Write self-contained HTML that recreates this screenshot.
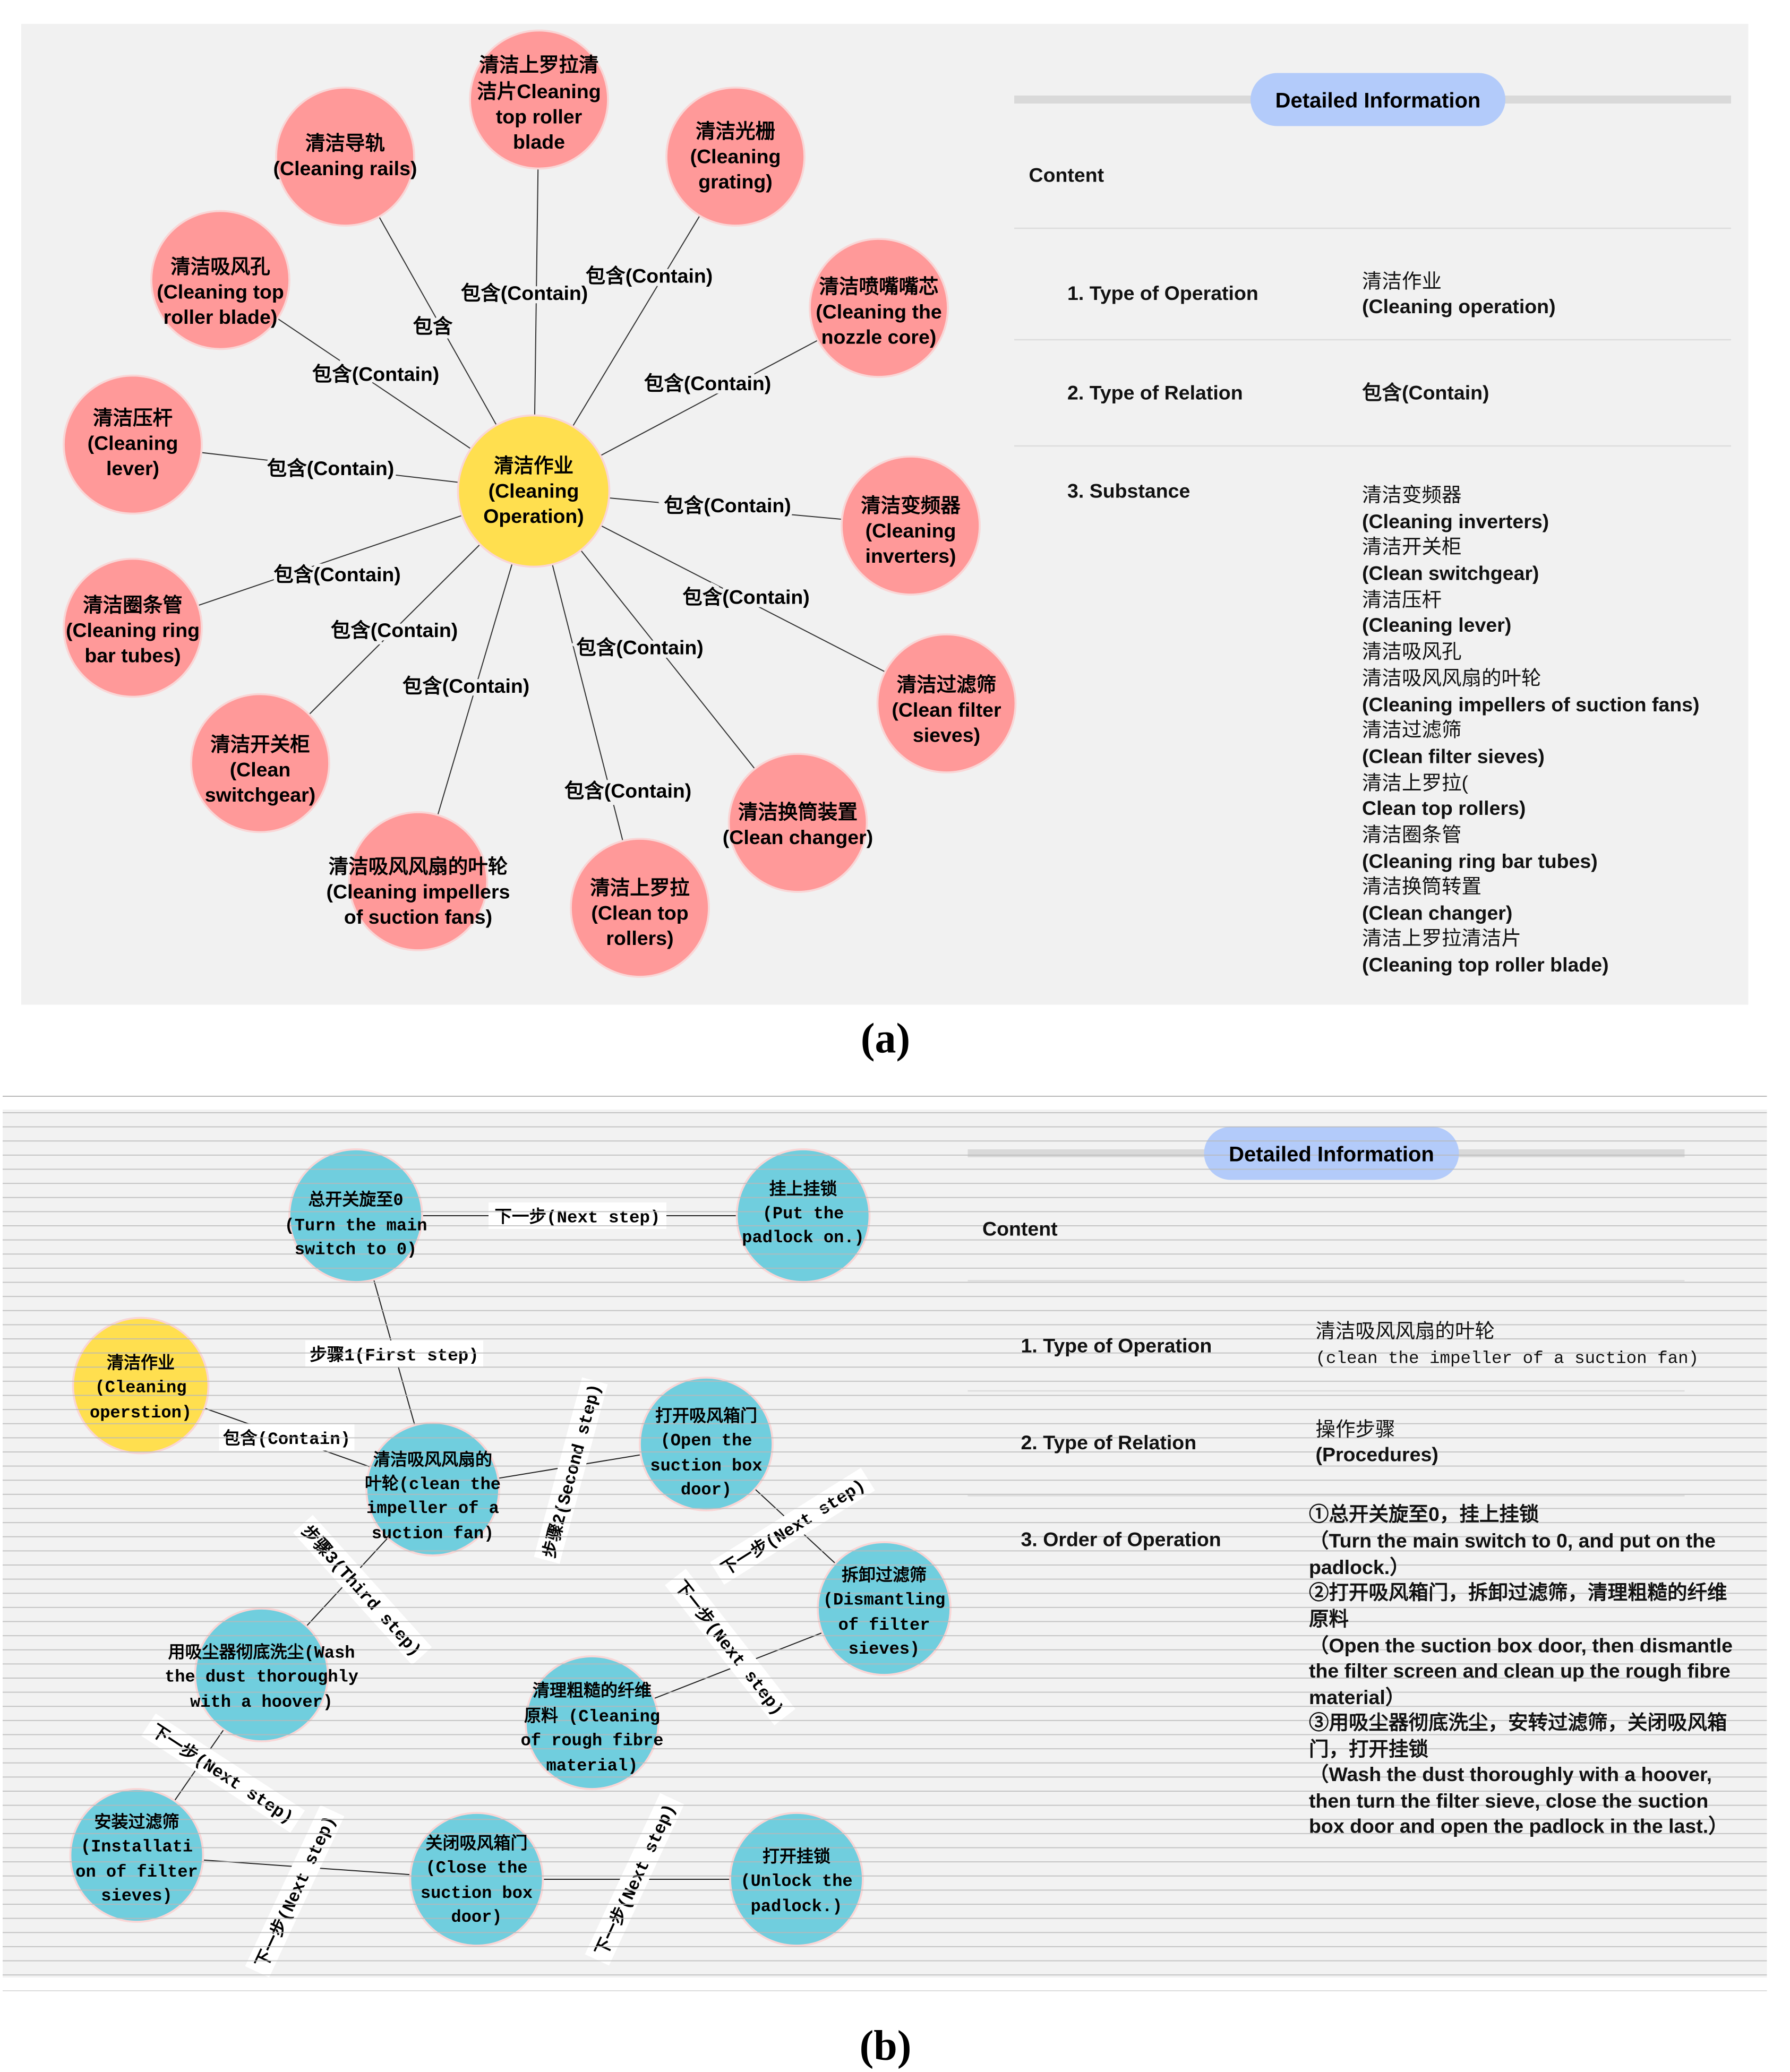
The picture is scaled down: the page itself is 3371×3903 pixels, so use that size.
<!DOCTYPE html>
<html><head><meta charset="utf-8"><style>
html,body{margin:0;padding:0;background:#fff}
svg{display:block}
.n{font-family:"Liberation Sans","WenQuanYi Zen Hei",sans-serif;font-weight:bold;font-size:15px;text-anchor:middle;fill:#000}
.e{font-family:"Liberation Sans","WenQuanYi Zen Hei",sans-serif;font-weight:bold;font-size:15px;text-anchor:middle;fill:#000;paint-order:stroke;stroke:#f1f1f1;stroke-width:5px}
.r{font-family:"Liberation Sans","WenQuanYi Zen Hei",sans-serif;font-weight:bold;font-size:15px;fill:#111}
.m{font-family:"Liberation Mono","WenQuanYi Zen Hei",monospace;font-size:12.8px;font-weight:bold;text-anchor:middle;fill:#000}
.l{font-family:"Liberation Mono","WenQuanYi Zen Hei",monospace;font-size:13px;font-weight:bold;text-anchor:middle;fill:#000}
.cap{font-family:"Liberation Serif",serif;font-size:32px;font-weight:bold;text-anchor:middle}
</style></head><body>
<svg width="3371" height="3903" viewBox="0 0 1348.4 1561.2" xmlns="http://www.w3.org/2000/svg">
<defs>
<pattern id="st" x="0" y="838" width="20" height="10.65" patternUnits="userSpaceOnUse">
<rect x="0" y="0" width="20" height="0.8" fill="#b8b8b8"/>
</pattern>
</defs>
<!-- Panel A -->
<rect x="16" y="18" width="1301" height="739" fill="#f1f1f1"/>
<g stroke="#333" stroke-width="0.8">
<line x1="402" y1="370" x2="406" y2="75"/>
<line x1="402" y1="370" x2="260" y2="118"/>
<line x1="402" y1="370" x2="554" y2="118"/>
<line x1="402" y1="370" x2="166" y2="211"/>
<line x1="402" y1="370" x2="662" y2="232"/>
<line x1="402" y1="370" x2="100" y2="335"/>
<line x1="402" y1="370" x2="686" y2="396"/>
<line x1="402" y1="370" x2="100" y2="473"/>
<line x1="402" y1="370" x2="713" y2="530"/>
<line x1="402" y1="370" x2="196" y2="575"/>
<line x1="402" y1="370" x2="601" y2="620"/>
<line x1="402" y1="370" x2="315" y2="664"/>
<line x1="402" y1="370" x2="482" y2="684"/>
</g>
<g class="e">
<text x="395" y="226">包含(Contain)</text>
<text x="326" y="251">包含</text>
<text x="489" y="213">包含(Contain)</text>
<text x="283" y="287">包含(Contain)</text>
<text x="533" y="294">包含(Contain)</text>
<text x="249" y="358">包含(Contain)</text>
<text x="548" y="386">包含(Contain)</text>
<text x="254" y="438">包含(Contain)</text>
<text x="562" y="455">包含(Contain)</text>
<text x="297" y="480">包含(Contain)</text>
<text x="482" y="493">包含(Contain)</text>
<text x="351" y="522">包含(Contain)</text>
<text x="473" y="601">包含(Contain)</text>
</g>
<g fill="#ff9999" stroke="#f9d6d6" stroke-width="1.5">
<circle cx="406" cy="75" r="52"/><circle cx="260" cy="118" r="52"/><circle cx="554" cy="118" r="52"/>
<circle cx="166" cy="211" r="52"/><circle cx="662" cy="232" r="52"/><circle cx="100" cy="335" r="52"/>
<circle cx="686" cy="396" r="52"/><circle cx="100" cy="473" r="52"/><circle cx="713" cy="530" r="52"/>
<circle cx="196" cy="575" r="52"/><circle cx="601" cy="620" r="52"/><circle cx="315" cy="664" r="52"/>
<circle cx="482" cy="684" r="52"/>
</g>
<circle cx="402" cy="370" r="57" fill="#ffdf4f" stroke="#f9d6d6" stroke-width="1.5"/>
<g class="n">
<text x="402" y="356">清洁作业</text><text x="402" y="375">(Cleaning</text><text x="402" y="394">Operation)</text>
<text x="406" y="54">清洁上罗拉清</text><text x="406" y="74">洁片Cleaning</text><text x="406" y="93">top roller</text><text x="406" y="112">blade</text>
<text x="260" y="113">清洁导轨</text><text x="260" y="132">(Cleaning rails)</text>
<text x="554" y="104">清洁光栅</text><text x="554" y="123">(Cleaning</text><text x="554" y="142">grating)</text>
<text x="166" y="206">清洁吸风孔</text><text x="166" y="225">(Cleaning top</text><text x="166" y="244">roller blade)</text>
<text x="662" y="221">清洁喷嘴嘴芯</text><text x="662" y="240">(Cleaning the</text><text x="662" y="259">nozzle core)</text>
<text x="100" y="320">清洁压杆</text><text x="100" y="339">(Cleaning</text><text x="100" y="358">lever)</text>
<text x="686" y="386">清洁变频器</text><text x="686" y="405">(Cleaning</text><text x="686" y="424">inverters)</text>
<text x="100" y="461">清洁圈条管</text><text x="100" y="480">(Cleaning ring</text><text x="100" y="499">bar tubes)</text>
<text x="713" y="521">清洁过滤筛</text><text x="713" y="540">(Clean filter</text><text x="713" y="559">sieves)</text>
<text x="196" y="566">清洁开关柜</text><text x="196" y="585">(Clean</text><text x="196" y="604">switchgear)</text>
<text x="601" y="617">清洁换筒装置</text><text x="601" y="636">(Clean changer)</text>
<text x="315" y="658">清洁吸风风扇的叶轮</text><text x="315" y="677">(Cleaning impellers</text><text x="315" y="696">of suction fans)</text>
<text x="482" y="674">清洁上罗拉</text><text x="482" y="693">(Clean top</text><text x="482" y="712">rollers)</text>
</g>
<rect x="764" y="72" width="540" height="6" fill="#d9d9d9"/>
<rect x="942" y="55" width="192" height="40" rx="20" fill="#b3cbfa"/>
<text class="n" x="1038" y="81" style="font-size:16px">Detailed Information</text>
<g stroke="#dcdcdc" stroke-width="1"><line x1="764" y1="172" x2="1304" y2="172"/><line x1="764" y1="256" x2="1304" y2="256"/><line x1="764" y1="336" x2="1304" y2="336"/></g>
<g class="r">
<text x="775" y="137">Content</text>
<text x="804" y="226">1. Type of Operation</text>
<text x="1026" y="217" style="font-weight:normal">清洁作业</text><text x="1026" y="236">(Cleaning operation)</text>
<text x="804" y="301">2. Type of Relation</text>
<text x="1026" y="301">包含(Contain)</text>
<text x="804" y="375">3. Substance</text>
</g>
<g class="r">
<text x="1026" y="378" style="font-weight:normal">清洁变频器</text><text x="1026" y="398">(Cleaning inverters)</text>
<text x="1026" y="417" style="font-weight:normal">清洁开关柜</text><text x="1026" y="437">(Clean switchgear)</text>
<text x="1026" y="457" style="font-weight:normal">清洁压杆</text><text x="1026" y="476">(Cleaning lever)</text>
<text x="1026" y="496" style="font-weight:normal">清洁吸风孔</text>
<text x="1026" y="516" style="font-weight:normal">清洁吸风风扇的叶轮</text><text x="1026" y="536">(Cleaning impellers of suction fans)</text>
<text x="1026" y="555" style="font-weight:normal">清洁过滤筛</text><text x="1026" y="575">(Clean filter sieves)</text>
<text x="1026" y="595" style="font-weight:normal">清洁上罗拉(</text><text x="1026" y="614">Clean top rollers)</text>
<text x="1026" y="634" style="font-weight:normal">清洁圈条管</text><text x="1026" y="654">(Cleaning ring bar tubes)</text>
<text x="1026" y="673" style="font-weight:normal">清洁换筒转置</text><text x="1026" y="693">(Clean changer)</text>
<text x="1026" y="712" style="font-weight:normal">清洁上罗拉清洁片</text><text x="1026" y="732">(Cleaning top roller blade)</text>
</g>
<text class="cap" x="667" y="793">(a)</text>

<!-- Panel B -->
<line x1="2" y1="826" x2="1331" y2="826" stroke="#b8b8b8" stroke-width="0.8"/>
<rect x="2" y="836" width="1329" height="654" fill="#f2f2f2"/>
<line x1="2" y1="1500" x2="1331" y2="1500" stroke="#ddd" stroke-width="0.8"/>
<g stroke="#222" stroke-width="0.8">
<line x1="268" y1="916" x2="605" y2="916"/>
<line x1="268" y1="916" x2="326" y2="1122"/>
<line x1="106" y1="1044" x2="326" y2="1122"/>
<line x1="326" y1="1122" x2="532" y2="1088"/>
<line x1="532" y1="1088" x2="666" y2="1212"/>
<line x1="326" y1="1122" x2="197" y2="1262"/>
<line x1="666" y1="1212" x2="446" y2="1298"/>
<line x1="197" y1="1262" x2="103" y2="1398"/>
<line x1="103" y1="1398" x2="359" y2="1416"/>
<line x1="359" y1="1416" x2="600" y2="1416"/>
</g>
<g fill="#70cede" stroke="#f9d6d6" stroke-width="1.5">
<circle cx="268" cy="916" r="50"/><circle cx="605" cy="916" r="50"/><circle cx="532" cy="1088" r="50"/>
<circle cx="326" cy="1122" r="50"/><circle cx="666" cy="1212" r="50"/><circle cx="197" cy="1262" r="50"/>
<circle cx="446" cy="1298" r="50"/><circle cx="103" cy="1398" r="50"/><circle cx="359" cy="1416" r="50"/>
<circle cx="600" cy="1416" r="50"/>
</g>
<circle cx="106" cy="1044" r="51" fill="#ffdf4f" stroke="#f9d6d6" stroke-width="1.5"/>
<rect x="729" y="866" width="540" height="6" fill="#d9d9d9"/>
<rect x="907" y="849" width="192" height="40" rx="20" fill="#b3cbfa"/>
<g stroke="#dcdcdc" stroke-width="1"><line x1="729" y1="965" x2="1269" y2="965"/><line x1="729" y1="1048" x2="1269" y2="1048"/><line x1="729" y1="1127" x2="1269" y2="1127"/></g>
<!-- edge labels -->
<g>
<rect x="368" y="906" width="134" height="20" fill="#fff"/>
<text class="l" x="435" y="921">下一步(Next step)</text>
<rect x="230" y="1010" width="134" height="20" fill="#fff"/>
<text class="l" x="297" y="1025">步骤1(First step)</text>
<rect x="165" y="1073" width="102" height="20" fill="#fff"/>
<text class="l" x="216" y="1088">包含(Contain)</text>
<g transform="translate(430,1108) rotate(-75)"><rect x="-70" y="-10" width="140" height="20" fill="#fff"/><text class="l" x="0" y="5">步骤2(Second step)</text></g>
<g transform="translate(597,1150) rotate(-32)"><rect x="-67" y="-10" width="134" height="20" fill="#fff"/><text class="l" x="0" y="5">下一步(Next step)</text></g>
<g transform="translate(273,1198) rotate(48)"><rect x="-67" y="-10" width="134" height="20" fill="#fff"/><text class="l" x="0" y="5">步骤3(Third step)</text></g>
<g transform="translate(550,1241) rotate(52)"><rect x="-67" y="-10" width="134" height="20" fill="#fff"/><text class="l" x="0" y="5">下一步(Next step)</text></g>
<g transform="translate(168,1336) rotate(33)"><rect x="-67" y="-10" width="134" height="20" fill="#fff"/><text class="l" x="0" y="5">下一步(Next step)</text></g>
<g transform="translate(222,1425) rotate(-65)"><rect x="-67" y="-10" width="134" height="20" fill="#fff"/><text class="l" x="0" y="5">下一步(Next step)</text></g>
<g transform="translate(478,1416) rotate(-65)"><rect x="-67" y="-10" width="134" height="20" fill="#fff"/><text class="l" x="0" y="5">下一步(Next step)</text></g>
</g>
<rect x="2" y="836" width="1329" height="654" fill="url(#st)" opacity="0.8"/>
<g class="m">
<text x="268" y="908">总开关旋至0</text><text x="268" y="927">(Turn the main</text><text x="268" y="945">switch to 0)</text>
<text x="605" y="900">挂上挂锁</text><text x="605" y="918">(Put the</text><text x="605" y="936">padlock on.)</text>
<text x="106" y="1031">清洁作业</text><text x="106" y="1049">(Cleaning</text><text x="106" y="1068">operstion)</text>
<text x="532" y="1071">打开吸风箱门</text><text x="532" y="1089">(Open the</text><text x="532" y="1108">suction box</text><text x="532" y="1126">door)</text>
<text x="326" y="1104">清洁吸风风扇的</text><text x="326" y="1122">叶轮(clean the</text><text x="326" y="1140">impeller of a</text><text x="326" y="1159">suction fan)</text>
<text x="666" y="1191">拆卸过滤筛</text><text x="666" y="1209">(Dismantling</text><text x="666" y="1228">of filter</text><text x="666" y="1246">sieves)</text>
<text x="197" y="1249">用吸尘器彻底洗尘(Wash</text><text x="197" y="1267">the dust thoroughly</text><text x="197" y="1286">with a hoover)</text>
<text x="446" y="1278">清理粗糙的纤维</text><text x="446" y="1297">原料 (Cleaning</text><text x="446" y="1315">of rough fibre</text><text x="446" y="1334">material)</text>
<text x="103" y="1377">安装过滤筛</text><text x="103" y="1395">(Installati</text><text x="103" y="1414">on of filter</text><text x="103" y="1432">sieves)</text>
<text x="359" y="1393">关闭吸风箱门</text><text x="359" y="1411">(Close the</text><text x="359" y="1430">suction box</text><text x="359" y="1448">door)</text>
<text x="600" y="1403">打开挂锁</text><text x="600" y="1421">(Unlock the</text><text x="600" y="1440">padlock.)</text>
</g>
<text class="n" x="1003" y="875" style="font-size:16px">Detailed Information</text>
<g class="r">
<text x="740" y="931">Content</text>
<text x="769" y="1019">1. Type of Operation</text>
<text x="991" y="1008" style="font-weight:normal">清洁吸风风扇的叶轮</text>
<text x="991" y="1027" style="font-weight:normal;font-family:'Liberation Mono',monospace;font-size:13px">(clean the impeller of a suction fan)</text>
<text x="769" y="1092">2. Type of Relation</text>
<text x="991" y="1082" style="font-weight:normal">操作步骤</text><text x="991" y="1101">(Procedures)</text>
<text x="769" y="1165">3. Order of Operation</text>
<text x="986" y="1146">①总开关旋至0，挂上挂锁</text>
<text x="986" y="1166">（Turn the main switch to 0, and put on the</text>
<text x="986" y="1186">padlock.）</text>
<text x="986" y="1205">②打开吸风箱门，拆卸过滤筛，清理粗糙的纤维</text>
<text x="986" y="1225">原料</text>
<text x="986" y="1245">（Open the suction box door, then dismantle</text>
<text x="986" y="1264">the filter screen and clean up the rough fibre</text>
<text x="986" y="1284">material）</text>
<text x="986" y="1303">③用吸尘器彻底洗尘，安转过滤筛，关闭吸风箱</text>
<text x="986" y="1323">门，打开挂锁</text>
<text x="986" y="1342">（Wash the dust thoroughly with a hoover,</text>
<text x="986" y="1362">then turn the filter sieve, close the suction</text>
<text x="986" y="1381">box door and open the padlock in the last.）</text>
</g>
<text class="cap" x="667" y="1552">(b)</text>
</svg>
</body></html>
